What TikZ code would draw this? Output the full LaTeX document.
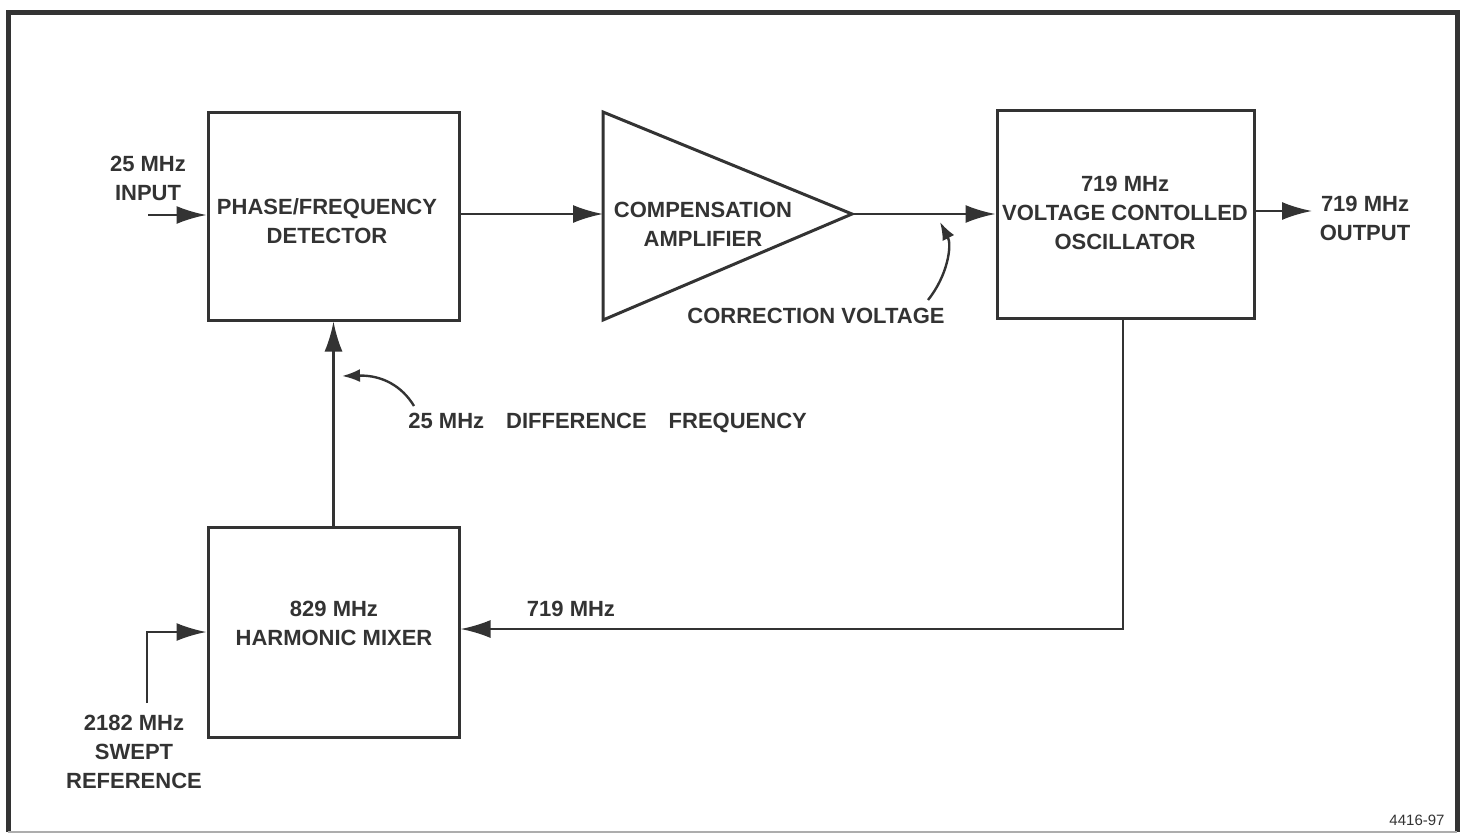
\documentclass[tikz,border=0pt]{standalone}
\usepackage{fontspec}
\setmainfont{Liberation Sans}
\usetikzlibrary{arrows.meta}
\definecolor{ink}{HTML}{333333}
\begin{document}
\begin{tikzpicture}[x=0.5pt,y=-0.5pt,
  box/.style={draw=ink, line width=1.5pt, inner sep=0pt},
  lbl/.style={text=ink, font=\fontsize{11}{14.5}\selectfont\bfseries, align=center, inner sep=0pt},
  wire/.style={draw=ink, line width=1.2pt},
  arr/.style={wire, -{Latex[length=15pt,width=9pt]}},
  smallarr/.style={wire, -{Latex[length=9pt,width=6.5pt]}}]
\useasboundingbox (0,0) rectangle (1465,835);
% frame
\draw[ink, line width=2.5pt, line join=miter] (8,832) -- (8,12) -- (1457,12) -- (1457,832);
\draw[ink!40, line width=1pt] (8,832) -- (1457,832);
% boxes
\node[box, minimum width=125.5pt, minimum height=104pt] (pfd) at (333.5,216) {};
\node[lbl] (pfdt) at (327,221) {PHASE/FREQUENCY\\DETECTOR};
\node[box, minimum width=128.5pt, minimum height=104pt] (vco) at (1125.5,214) {};
\node[lbl] (vcot) at (1125,213) {719 MHz\\VOLTAGE CONTOLLED\\OSCILLATOR};
\node[box, minimum width=125.5pt, minimum height=105pt] (mix) at (333.5,632) {};
\node[lbl] (mixt) at (334,623) {829 MHz\\HARMONIC MIXER};
% amplifier
\coordinate (ampin) at (603,214);
\coordinate (ampout) at (852,214);
\draw[ink, line width=1.5pt, line join=miter] (603,112) -- (ampout) -- (603,320) -- cycle;
\node[lbl] (ampt) at (703,224) {COMPENSATION\\AMPLIFIER};
% connectors
\coordinate (inpt) at (148,215);
\draw[arr] (inpt) -- (inpt -| pfd.west);
\draw[arr] (pfd.east |- ampin) -- (ampin);
\draw[arr] (ampout) -- (ampout -| vco.west);
\coordinate (outend) at (1312,211);
\draw[arr] (outend -| vco.east) -- (outend);
\coordinate (fbturn) at (1123,629);
\draw[arr] (vco.south -| fbturn) -- (fbturn) -- (fbturn -| mix.east);
\draw[arr] (mix.north) -- (pfd.south);
\coordinate (swept) at (147,703);
\draw[arr] (swept) |- (mix.west);
% labels
\node[lbl] (inl) at (148,178) {25 MHz\\INPUT};
\node[lbl] (outl) at (1365,218) {719 MHz\\OUTPUT};
\node[lbl] (cvl) at (816,316) {CORRECTION VOLTAGE};
\node[lbl, anchor=west] (dfl) at (408,423) {25 MHz\hspace{1em}DIFFERENCE\hspace{1em}FREQUENCY};
\node[lbl] (fbl) at (571,609) {719 MHz};
\node[lbl] (swl) at (134,752) {2182 MHz\\SWEPT\\REFERENCE};
\node[text=ink, font=\fontsize{7.5}{9}\selectfont, inner sep=0pt] (fig) at (1417,820) {4416-97};
% curved pointers
\coordinate (cvs) at (928,300);
\coordinate (cve) at (940,222);
\draw[smallarr] (cvs) .. controls (948,275) and (952,245) .. (cve);
\coordinate (dfs) at (414,406);
\coordinate (dfe) at (342,376);
\draw[smallarr] (dfs) .. controls (402,386) and (382,375) .. (dfe);
\end{tikzpicture}
\end{document}
